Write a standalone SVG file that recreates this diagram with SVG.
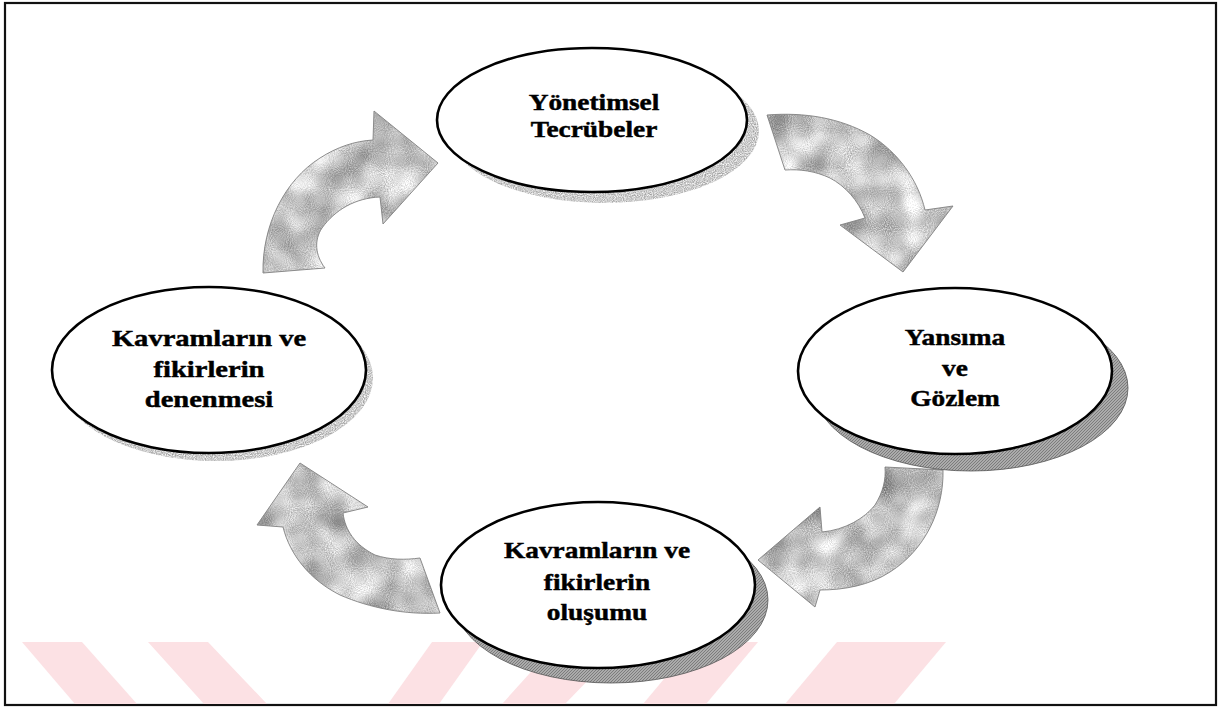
<svg xmlns="http://www.w3.org/2000/svg" width="1224" height="724" viewBox="0 0 1224 724">
  <style>
    .frame { fill: #ffffff; stroke: #111111; stroke-width: 2.2; }
    .stripe { fill: #fce1e4; }
    .bubble { fill: #ffffff; stroke: #000000; stroke-width: 2.6; }
    .shade-light { fill: #cccccc; filter: url(#mottle-light); }
    .shade-dark { fill: url(#hatch); stroke: #555555; stroke-width: 0.8; }
    .arrow { fill: #bdbdbd; filter: url(#mottle); }
    .arrow-edge { fill: none; stroke: #808080; stroke-width: 0.9; }
    .label { font-family: "Liberation Serif", "Times New Roman", serif; font-weight: bold; font-size: 24px; fill: #000000; stroke: #000000; stroke-width: 0.45; text-anchor: middle; }
  </style>
  <defs>
    <!-- mottled grey fill used on the block arrows -->
    <filter id="mottle" x="0" y="0" width="1" height="1" color-interpolation-filters="sRGB">
      <feTurbulence type="fractalNoise" baseFrequency="0.03" numOctaves="2" seed="7" result="big"/>
      <feTurbulence type="fractalNoise" baseFrequency="0.95" numOctaves="1" seed="3" result="fine"/>
      <feComposite in="big" in2="fine" operator="arithmetic" k2="0.65" k3="0.35" result="mix"/>
      <feColorMatrix in="mix" type="matrix" values="1.05 0 0 0 0.24  1.05 0 0 0 0.24  1.05 0 0 0 0.24  0 0 0 0 1" result="grey"/>
      <feComposite in="grey" in2="SourceAlpha" operator="in"/>
    </filter>
    <!-- paler version for the soft shadows -->
    <filter id="mottle-light" x="0" y="0" width="1" height="1" color-interpolation-filters="sRGB">
      <feTurbulence type="fractalNoise" baseFrequency="0.9" numOctaves="1" seed="5" result="fine"/>
      <feColorMatrix in="fine" type="matrix" values="0.7 0 0 0 0.45  0.7 0 0 0 0.45  0.7 0 0 0 0.45  0 0 0 0 1" result="grey"/>
      <feComposite in="grey" in2="SourceAlpha" operator="in"/>
    </filter>
    <!-- fine diagonal hatching for the dark drop shadows -->
    <pattern id="hatch" width="3" height="3" patternUnits="userSpaceOnUse">
      <rect width="3" height="3" fill="#ababab"/>
      <path d="M0,3 L3,0 M-1,1 L1,-1 M2,4 L4,2" stroke="#707070" stroke-width="0.8"/>
    </pattern>
    <path id="arc-a" d="M767,115 C805,112 840,118 870,135 C898,152 918,180 925,210 L953,206 L903,272 L840,225 L865,218 C858,200 845,186 830,178 C815,171 800,169 785,170 Z"/>
    <path id="arc-b" d="M885,467 L943,470 C944,510 925,550 890,572 C870,585 845,590 820,590 L815,607 L758,560 L820,507 L822,532 C845,530 865,518 875,505 C883,492 886,480 885,467 Z"/>
    <path id="arc-c" d="M440,613 C405,615 370,608 340,595 C310,580 290,555 283,527 L257,525 L300,463 L368,507 L343,513 C345,530 355,545 375,555 C390,560 405,560 420,558 Z"/>
    <path id="arc-d" d="M263,273 C262,225 285,180 320,158 C337,147 355,141 373,140 L374,111 L438,163 L383,224 L380,197 C355,198 335,210 322,228 C314,240 315,255 325,268 Z"/>
  </defs>

  <!-- page frame -->
  <rect class="frame" x="5" y="3" width="1211" height="702"/>

  <!-- faint diagonal bands along the lower edge -->
  <g id="bands">
    <polygon class="stripe" points="22,642 82,642 137,704 75,704"/>
    <polygon class="stripe" points="148,642 208,642 267,704 204,704"/>
    <polygon class="stripe" points="432,642 483,642 439,704 388,704"/>
    <polygon class="stripe" points="558,642 625,642 565,704 502,704"/>
    <polygon class="stripe" points="695,642 758,642 706,704 643,704"/>
    <polygon class="stripe" points="837,642 946,642 894,704 785,704"/>
  </g>

  <!-- curved block arrows of the cycle -->
  <g id="connectors">
    <g id="arrow-top-right">
      <use href="#arc-a" class="arrow"/>
      <use href="#arc-a" class="arrow-edge"/>
    </g>
    <g id="arrow-bottom-right">
      <use href="#arc-b" class="arrow"/>
      <use href="#arc-b" class="arrow-edge"/>
    </g>
    <g id="arrow-bottom-left">
      <use href="#arc-c" class="arrow"/>
      <use href="#arc-c" class="arrow-edge"/>
    </g>
    <g id="arrow-top-left">
      <use href="#arc-d" class="arrow"/>
      <use href="#arc-d" class="arrow-edge"/>
    </g>
  </g>

  <g id="node-experience">
    <ellipse class="shade-light" cx="604" cy="131" rx="155" ry="72"/>
    <ellipse class="bubble" cx="592" cy="120" rx="155" ry="72"/>
    <text class="label" transform="translate(594,0) scale(1.14,1)"><tspan x="0" y="110">Yönetimsel</tspan><tspan x="0" y="137">Tecrübeler</tspan></text>
  </g>

  <g id="node-reflection">
    <ellipse class="shade-dark" cx="971" cy="388" rx="157" ry="83"/>
    <ellipse class="bubble" cx="955" cy="371" rx="157" ry="83"/>
    <text class="label" transform="translate(955,0) scale(1.14,1)"><tspan x="0" y="345">Yansıma</tspan><tspan x="0" y="376">ve</tspan><tspan x="0" y="406">Gözlem</tspan></text>
  </g>

  <g id="node-forming">
    <ellipse class="shade-dark" cx="611" cy="600" rx="157" ry="83"/>
    <ellipse class="bubble" cx="598" cy="585" rx="157" ry="83"/>
    <text class="label" transform="translate(597,0) scale(1.14,1)"><tspan x="0" y="558">Kavramların ve</tspan><tspan x="0" y="590">fikirlerin</tspan><tspan x="0" y="620">oluşumu</tspan></text>
  </g>

  <g id="node-testing">
    <ellipse class="shade-light" cx="216" cy="378" rx="157" ry="83"/>
    <ellipse class="bubble" cx="209" cy="370" rx="157" ry="83"/>
    <text class="label" transform="translate(209,0) scale(1.19,1)"><tspan x="0" y="346">Kavramların ve</tspan><tspan x="0" y="377">fikirlerin</tspan><tspan x="0" y="407">denenmesi</tspan></text>
  </g>
</svg>
